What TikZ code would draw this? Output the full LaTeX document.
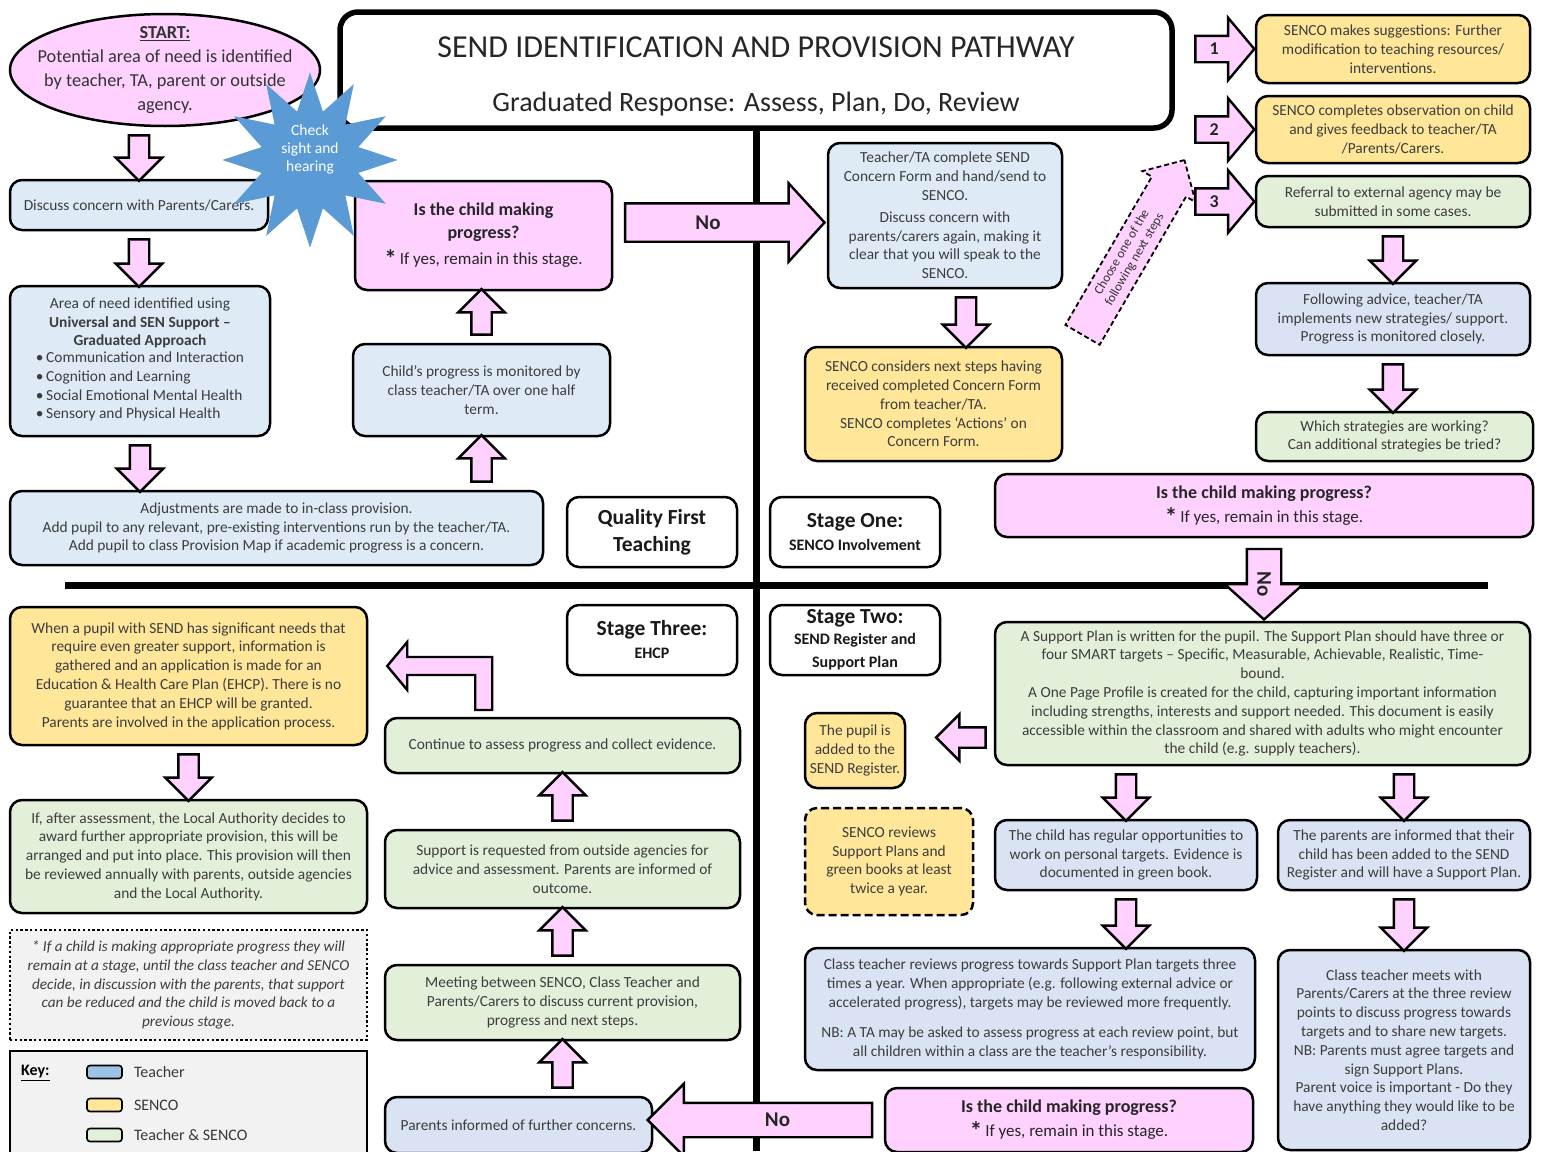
\documentclass[tikz,border=0pt]{standalone}
\usepackage{fontspec}
\setmainfont{Carlito}
\usetikzlibrary{shapes.geometric, shapes.arrows, calc, positioning}
\definecolor{teachblue}{HTML}{DEEBF7}
\definecolor{teachlilac}{HTML}{DAE3F3}
\definecolor{sencoyellow}{HTML}{FFE699}
\definecolor{bothgreen}{HTML}{E2F0D9}
\definecolor{askpink}{HTML}{FFD1FF}
\definecolor{keygrey}{HTML}{F2F2F2}
\definecolor{keyblue}{HTML}{9DC3E6}
\definecolor{starblue}{HTML}{5B9BD5}
\tikzset{
    box/.style={draw, line width=2.5pt, rounded corners=12pt, align=center, text=black!76,
        font=\fontsize{15.4}{18.8}\selectfont, inner sep=3pt},
    wh/.style 2 args={minimum width=#1pt, minimum height=#2pt},
    tbox/.style={box, fill=teachblue},
    lbox/.style={box, fill=teachlilac},
    sbox/.style={box, fill=sencoyellow},
    bbox/.style={box, fill=bothgreen},
    qbox/.style={box, fill=askpink, text=black!85, font=\fontsize{18}{23}\selectfont},
    stagebox/.style={box, fill=white, text=black!90, font=\fontsize{21.5}{27}\selectfont\bfseries},
    titlebox/.style={draw, line width=5.5pt, rounded corners=18pt, fill=white, align=center,
        text=black!85, font=\fontsize{32}{54}\selectfont},
    fatarr/.style={single arrow, draw=black, fill=askpink, line width=2.4pt, inner xsep=0pt,
        inner ysep=9pt, single arrow head extend=13pt, single arrow head indent=0pt,
        single arrow tip angle=90},
    arrlabel/.style={font=\fontsize{21}{24}\selectfont\bfseries, text=black!85, inner sep=0pt},
    numlabel/.style={font=\fontsize{18}{20}\selectfont\bfseries, text=black!85, inner sep=0pt},
    swatch/.style={draw, line width=1.6pt, rounded corners=3pt, minimum width=35pt,
        minimum height=13pt, inner sep=0pt},
    keytext/.style={font=\fontsize{16}{18}\selectfont, text=black!78, inner sep=0pt},
    divider/.style={line width=7pt},
}
\newcommand\fatarrow[4][]{%
    \path let \p1=(#2), \p2=(#3),
        \n1={atan2(\y2-\y1,\x2-\x1)}, \n2={veclen(\x2-\x1,\y2-\y1)-6}
    in node[fatarr, minimum height=\n2, rotate=\n1, #1] at ($(\p1)!.5!(\p2)$) {#4};}
\newcommand\stagesub[1]{{\fontsize{16}{18}\selectfont #1}}
\newcommand\yesline{\raisebox{-3pt}{\fontsize{25}{25}\selectfont\textbf{*}}\,{\fontsize{17}{20}\selectfont If yes, remain in this stage.}}

\begin{document}
\begin{tikzpicture}[x=1pt, y=-1pt]
    \path[use as bounding box, fill=white] (0,0) rectangle (1541,1151);

    \node[titlebox, wh={832}{116}] (title) at (756,70)
        {\rule{0pt}{33pt}SEND IDENTIFICATION AND PROVISION PATHWAY\\ {\fontsize{28}{30}\selectfont Graduated Response: Assess, Plan, Do, Review}};
    \coordinate (pagebottom) at (755,1151);
    \draw[divider] (title.south) -- (title.south |- pagebottom);
    \draw[divider] (65,585) -- (1488,585);

    % quality first teaching
    \node[draw, ellipse, line width=2.5pt, fill=askpink, wh={310}{112}, inner sep=0pt] (start) at (165,70) {};
    \node[align=center, text=black!80, font=\fontsize{18.3}{24}\selectfont] (starttext) at (165,70)
        {\underline{\textbf{START:}}\\ Potential area of need is identified\\ by teacher, TA, parent or outside\\ agency.};
    \node[tbox, wh={258}{50}] (discuss) at (139,205) {Discuss concern with Parents/Carers.};
    \node[tbox, wh={260}{150}] (need) at (140,361)
        {Area of need identified using\\ \textbf{Universal and SEN Support –}\\ \textbf{Graduated Approach}\\
        \begin{tabular}{@{}l@{}}•\,Communication and Interaction\\ •\,Cognition and Learning\\
        •\,Social Emotional Mental Health\\ •\,Sensory and Physical Health\end{tabular}};
    \node[tbox, wh={533}{74}] (adjust) at (276.5,528)
        {Adjustments are made to in-class provision.\\
        Add pupil to any relevant, pre-existing interventions run by the teacher/TA.\\
        Add pupil to class Provision Map if academic progress is a concern.};
    \node[tbox, wh={257}{92}] (monitor) at (481.5,390)
        {Child’s progress is monitored by\\ class teacher/TA over one half\\ term.};
    \node[qbox, wh={257}{109}] (ask1) at (483.5,235.5)
        {\textbf{Is the child making}\\ \textbf{progress?}\\[3pt] \yesline};
    \node[stagebox, wh={170}{70}] (qft) at (652,532) {Quality First\\ Teaching};

    % stage one
    \node[stagebox, wh={170}{70}] (stage1) at (855,532)
        {Stage One:\\[-4pt] \stagesub{SENCO Involvement}};
    \node[tbox, wh={234}{145}] (concern) at (945,215.5)
        {Teacher/TA complete SEND\\ Concern Form and hand/send to\\ SENCO.\\[3pt] Discuss concern with\\
        parents/carers again, making it\\ clear that you will speak to the\\ SENCO.};
    \node[sbox, wh={257}{114}] (considers) at (933.5,404)
        {SENCO considers next steps having\\ received completed Concern Form\\ from teacher/TA.\\
        SENCO completes ‘Actions’ on\\ Concern Form.};
    \node[sbox, wh={274}{68}] (s1) at (1393,49)
        {SENCO makes suggestions: Further\\ modification to teaching resources/\\ interventions.};
    \node[sbox, wh={274}{67}] (s2) at (1393,129.5)
        {SENCO completes observation on child\\ and gives feedback to teacher/TA\\ /Parents/Carers.};
    \node[bbox, wh={274}{51}] (s3) at (1393,201.5)
        {Referral to external agency may be\\ submitted in some cases.};
    \node[lbox, wh={274}{72}] (follow) at (1393,319)
        {Following advice, teacher/TA\\ implements new strategies/ support.\\ Progress is monitored closely.};
    \node[bbox, wh={277}{49}] (which) at (1394.5,436.5)
        {Which strategies are working?\\ Can additional strategies be tried?};
    \node[qbox, wh={538}{63}] (ask2) at (1264,505.5)
        {\textbf{Is the child making progress?}\\[1pt] \yesline};

    % stage two
    \node[stagebox, wh={170}{70}] (stage2) at (855,640)
        {Stage Two:\\[-6pt] \stagesub{SEND Register and}\\[-4pt] \stagesub{Support Plan}};
    \node[bbox, wh={535}{143}] (plan) at (1262.5,693.5)
        {A Support Plan is written for the pupil. The Support Plan should have three or\\
        four SMART targets – Specific, Measurable, Achievable, Realistic, Time-\\ bound.\\
        A One Page Profile is created for the child, capturing important information\\
        including strengths, interests and support needed. This document is easily\\
        accessible within the classroom and shared with adults who might encounter\\
        the child (e.g. supply teachers).};
    \node[sbox, wh={100}{75}] (pupil) at (855,750.5) {The pupil is\\ added to the\\ SEND Register.};
    \node[sbox, wh={168}{107}, dash pattern=on 8pt off 4pt] (senrev) at (889,861.5)
        {SENCO reviews\\ Support Plans and\\ green books at least\\ twice a year.};
    \node[lbox, wh={262}{70}] (regular) at (1126,855)
        {The child has regular opportunities to\\ work on personal targets. Evidence is\\ documented in green book.};
    \node[lbox, wh={252}{70}] (parents) at (1404,855)
        {The parents are informed that their\\ child has been added to the SEND\\ Register and will have a Support Plan.};
    \node[lbox, wh={450}{122}] (review) at (1030,1009)
        {Class teacher reviews progress towards Support Plan targets three\\
        times a year. When appropriate (e.g. following external advice or\\
        accelerated progress), targets may be reviewed more frequently.\\[12pt]
        NB: A TA may be asked to assess progress at each review point, but\\
        all children within a class are the teacher’s responsibility.};
    \node[lbox, wh={252}{200}] (meets) at (1404,1050)
        {Class teacher meets with\\ Parents/Carers at the three review\\ points to discuss progress towards\\
        targets and to share new targets.\\ NB: Parents must agree targets and\\ sign Support Plans.\\
        Parent voice is important - Do they\\ have anything they would like to be\\ added?};
    \node[qbox, wh={368}{64}] (ask3) at (1069,1120)
        {\textbf{Is the child making progress?}\\[1pt] \yesline};

    % stage three
    \node[stagebox, wh={170}{70}] (stage3) at (652,640)
        {Stage Three:\\[-4pt] \stagesub{EHCP}};
    \node[lbox, wh={267}{56}] (pinf) at (518.5,1125) {Parents informed of further concerns.};
    \node[bbox, wh={355}{75}] (meeting) at (562.5,1002.5)
        {Meeting between SENCO, Class Teacher and\\ Parents/Carers to discuss current provision,\\ progress and next steps.};
    \node[bbox, wh={355}{78}] (support) at (562.5,869)
        {Support is requested from outside agencies for\\ advice and assessment. Parents are informed of\\ outcome.};
    \node[bbox, wh={355}{55}] (cont) at (562.5,745.5) {Continue to assess progress and collect evidence.};
    \node[sbox, wh={357}{138}] (ehcp) at (188.5,676)
        {When a pupil with SEND has significant needs that\\ require even greater support, information is\\
        gathered and an application is made for an\\ Education \& Health Care Plan (EHCP). There is no\\
        guarantee that an EHCP will be granted.\\ Parents are involved in the application process.};
    \node[bbox, wh={357}{113}] (after) at (188.5,856.5)
        {If, after assessment, the Local Authority decides to\\ award further appropriate provision, this will be\\
        arranged and put into place. This provision will then\\ be reviewed annually with parents, outside agencies\\
        and the Local Authority.};
    \node[box, rounded corners=0pt, fill=keygrey, dash pattern=on 2.4pt off 2.4pt, wh={357}{110},
        font=\fontsize{15.2}{18.8}\selectfont\itshape] (note) at (188.5,985)
        {* If a child is making appropriate progress they will\\ remain at a stage, until the class teacher and SENCO\\
        decide, in discussion with the parents, that support\\ can be reduced and the child is moved back to a\\ previous stage.};

    % key
    \node[draw, line width=2.5pt, fill=keygrey, wh={357}{110}] (key) at (188.5,1106) {};
    \node[keytext, anchor=west, text=black] (keyhead) at (21,1073) {\underline{\textbf{Key:}}};
    \node[swatch, fill=keyblue] (swT) at (104.5,1072) {};
    \node[swatch, fill=sencoyellow] (swS) at (104.5,1105) {};
    \node[swatch, fill=bothgreen] (swB) at (104.5,1135) {};
    \node[keytext, right=11pt of swT] (keyT) {Teacher};
    \node[keytext, right=11pt of swS] (keyS) {SENCO};
    \node[keytext, right=11pt of swB] (keyB) {Teacher \& SENCO};

    % block arrows
    \fatarrow{discuss.north |- start.south}{discuss.north}{}
    \fatarrow{discuss.south}{discuss.south |- need.north}{}
    \fatarrow{need.south}{need.south |- adjust.north}{}
    \fatarrow{monitor.south |- adjust.north}{monitor.south}{}
    \fatarrow{monitor.north}{monitor.north |- ask1.south}{}
    \fatarrow[name=noright, inner ysep=18pt, single arrow head extend=20pt, single arrow tip angle=95]
        {$(ask1.east)+(0,-13)$}{$(ask1.east -| concern.west)+(-8,-13)$}{}
    \node[arrlabel] (nolbl1) at ([xshift=-8pt]noright.center) {No};
    \fatarrow{$(concern.south)+(21,0)$}{$(concern.south |- considers.north)+(21,0)$}{}
    \coordinate (chooseA) at (1076,346);
    \coordinate (chooseB) at (1181,166);
    \fatarrow[dash pattern=on 5pt off 3pt, line width=1.8pt, inner ysep=6pt, single arrow head extend=11pt,
        align=center, font=\fontsize{13}{14.5}\selectfont, text=black!80]
        {chooseA}{chooseB}{Choose one of the\\ following next steps}
    \fatarrow[name=arr1, inner ysep=12pt, single arrow head extend=18pt, single arrow tip angle=100]
        {$(s1.west)+(-68,0)$}{$(s1.west)+(-3,0)$}{}
    \fatarrow[name=arr2, inner ysep=12pt, single arrow head extend=18pt, single arrow tip angle=100]
        {$(s2.west)+(-68,0)$}{$(s2.west)+(-3,0)$}{}
    \fatarrow[name=arr3, inner ysep=12pt, single arrow head extend=18pt, single arrow tip angle=100]
        {$(s3.west)+(-68,0)$}{$(s3.west)+(-3,0)$}{}
    \node[numlabel] (num1) at ([xshift=-5pt]arr1.center) {1};
    \node[numlabel] (num2) at ([xshift=-5pt]arr2.center) {2};
    \node[numlabel] (num3) at ([xshift=-5pt]arr3.center) {3};
    \fatarrow{s3.south}{s3.south |- follow.north}{}
    \fatarrow{follow.south}{follow.south |- which.north}{}
    \fatarrow[name=nodown, inner ysep=16pt, single arrow head extend=22pt, single arrow tip angle=96]
        {ask2.south}{$(ask2.south |- plan.north)+(0,-6)$}{}
    \node[arrlabel, rotate=-90] (nolbl2) at ([yshift=-8pt]nodown.center) {No};
    \fatarrow{$(plan.west |- pupil.east)+(0,-13)$}{$(pupil.east)+(32,-13)$}{}
    \fatarrow{regular.north |- plan.south}{regular.north}{}
    \fatarrow{parents.north |- plan.south}{parents.north}{}
    \fatarrow{regular.south}{regular.south |- review.north}{}
    \fatarrow{parents.south}{parents.south |- meets.north}{}
    \fatarrow[name=noleft, inner ysep=16pt, single arrow head extend=19pt]
        {ask3.west}{ask3.west -| pinf.east}{}
    \node[arrlabel] (nolbl3) at ([xshift=9pt]noleft.center) {No};
    \fatarrow{meeting.south |- pinf.north}{meeting.south}{}
    \fatarrow{meeting.north}{meeting.north |- support.south}{}
    \fatarrow{support.north}{support.north |- cont.south}{}
    \draw[draw=black, fill=askpink, line width=2.4pt] ($(ehcp.east)+(19,-10)$) -- ++(20,-24) -- ++(0,15)
        -- ++(85,0) -- ++(0,53) -- ++(-17,0) -- ++(0,-35) -- ++(-68,0) -- ++(0,15) -- cycle;
    \fatarrow{ehcp.south}{ehcp.south |- after.north}{}

    \node[star, star points=12, star point ratio=1.75, minimum size=166pt, fill=starblue, inner sep=0pt,
        shape border rotate=0, align=center, text=white, font=\fontsize{15.5}{18}\selectfont] (check) at (310,160)
        {Check\\ sight and\\ hearing\rule[-24pt]{0pt}{0pt}};
\end{tikzpicture}
\end{document}
